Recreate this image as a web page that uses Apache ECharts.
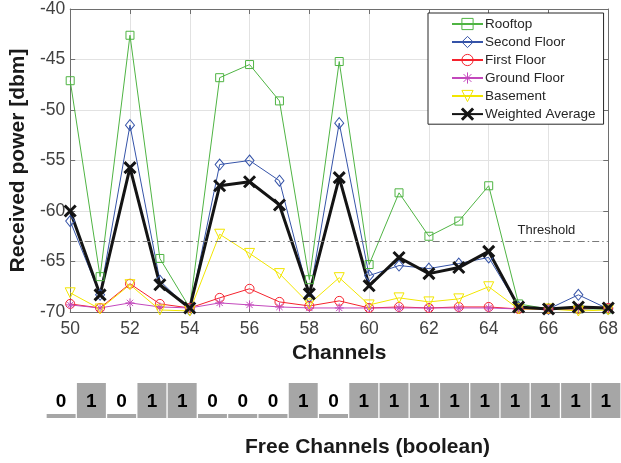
<!DOCTYPE html>
<html>
<head>
<meta charset="utf-8">
<script src="https://cdn.jsdelivr.net/npm/echarts@6/dist/echarts.min.js"></script>
<style>
html,body{margin:0;padding:0;background:#fff;}
#chart{width:621px;height:463px;}
</style>
</head>
<body>
<div id="chart"></div>
<script>
const channels = [50,51,52,53,54,55,56,57,58,59,60,61,62,63,64,65,66,67,68];
const rooftop = [-47.1,-66.5,-42.6,-64.7,-69.6,-46.8,-45.5,-49.1,-66.8,-45.2,-65.3,-58.2,-62.5,-61.0,-57.5,-69.2,-69.7,-69.7,-69.7];
const secondFloor = [-61.0,-68.3,-51.5,-66.9,-69.8,-55.4,-55.0,-57.0,-68.5,-51.3,-66.4,-65.4,-65.7,-65.2,-64.6,-69.5,-69.7,-68.3,-69.7];
const firstFloor = [-69.2,-69.6,-67.2,-69.2,-69.6,-68.6,-67.7,-69.0,-69.4,-68.9,-69.6,-69.5,-69.6,-69.5,-69.5,-69.7,-69.7,-69.7,-69.6];
const groundFloor = [-69.3,-69.6,-69.1,-69.5,-69.6,-69.1,-69.3,-69.5,-69.6,-69.6,-69.6,-69.6,-69.6,-69.6,-69.6,-69.7,-69.7,-69.6,-69.6];
const basement = [-68.1,-69.7,-67.3,-69.8,-69.9,-62.3,-64.2,-66.2,-69.2,-66.6,-69.3,-68.6,-69.0,-68.7,-67.5,-69.7,-69.7,-69.9,-69.8];
const weighted = [-60.0,-68.3,-55.7,-67.3,-69.6,-57.5,-57.1,-59.4,-68.2,-56.7,-67.4,-64.6,-66.2,-65.6,-64.0,-69.5,-69.7,-69.5,-69.6];
const freeChannels = [0,1,0,1,1,0,0,0,1,0,1,1,1,1,1,1,1,1,1];
const threshold = -63;
const seriesNames = ['Rooftop','Second Floor','First Floor','Ground Floor','Basement','Weighted Average'];
const seriesColors = ['#4fb443','#3553a8','#f5222d','#c348bc','#f2e600','#141414'];

const FONT = '"Liberation Sans", Arial, Helvetica, sans-serif';
const CLEAR = 'rgba(0,0,0,0)';
const pairs = arr => arr.map((v, i) => [channels[i], v]);
const SYM = {
  star: 'path://M5,0L5,10M0,5L10,5M1.5,1.5L8.5,8.5M8.5,1.5L1.5,8.5',
  tri: 'path://M0,0L10,0L5,9Z',
  cross: 'path://M0,0L10,10M10,0L0,10'
};

function mkLine(idx, data, symbol, size, lw, bw) {
  const color = seriesColors[idx];
  return {
    name: seriesNames[idx], type: 'line', xAxisIndex: 0, yAxisIndex: 0,
    data: pairs(data), symbol: symbol, symbolSize: size, clip: false,
    showAllSymbol: true, color: color,
    lineStyle: { color: color, width: lw },
    itemStyle: { color: CLEAR, borderColor: color, borderWidth: bw },
    emphasis: { disabled: true }
  };
}

const chart = echarts.init(document.getElementById('chart'), null, { renderer: 'canvas' });
const axisColor = '#6e6e6e';
const legendBw = [1, 1, 1, 1, 1, 3];
const option = {
  animation: false,
  textStyle: { fontFamily: FONT },
  grid: [
    { left: 63, top: 4, width: 548, height: 308 },
    { left: 46, top: 383, width: 578.6, height: 35 }
  ],
  title: {
    text: 'Free Channels (boolean)', left: 245, top: 437,
    padding: 0,
    textStyle: { fontFamily: FONT, fontSize: 21, fontWeight: 'bold', color: '#1a1a1a' }
  },
  legend: {
    data: seriesNames.map((n, i) => ({
      name: n,
      itemStyle: { color: CLEAR, borderColor: seriesColors[i], borderWidth: legendBw[i] }
    })),
    orient: 'vertical', left: 428, top: 13,
    padding: [4, 8, 3, 23], itemGap: 4, itemWidth: 31, itemHeight: 14,
    borderColor: '#262626', borderWidth: 1, backgroundColor: '#fff',
    selectedMode: false,
    textStyle: { fontFamily: FONT, fontSize: 13.5, lineHeight: 14, color: '#262626', padding: [0, 0, 0, -3] }
  },
  xAxis: [
    {
      type: 'value', gridIndex: 0, min: 50, max: 68, interval: 2,
      name: 'Channels', nameLocation: 'middle', nameGap: 31,
      nameTextStyle: { fontFamily: FONT, fontSize: 21, fontWeight: 'bold', color: '#1a1a1a' },
      axisLine: { show: true, lineStyle: { color: axisColor } },
      axisTick: { show: true, inside: true, length: 5, lineStyle: { color: axisColor } },
      axisLabel: { fontFamily: FONT, fontSize: 17.5, color: '#404040', margin: 8 },
      splitLine: { show: true, lineStyle: { color: '#e2e2e2' } }
    },
    {
      type: 'value', gridIndex: 0, position: 'top', min: 50, max: 68, interval: 2,
      axisLine: { show: true, lineStyle: { color: axisColor } },
      axisTick: { show: true, inside: true, length: 5, lineStyle: { color: axisColor } },
      axisLabel: { show: false }, splitLine: { show: false }
    },
    {
      type: 'category', gridIndex: 1, data: channels.map(String), show: false
    }
  ],
  yAxis: [
    {
      type: 'value', gridIndex: 0, min: -70, max: -40, interval: 5,
      name: 'Received power [dbm]', nameLocation: 'middle', nameGap: 36,
      nameTextStyle: { fontFamily: FONT, fontSize: 21, fontWeight: 'bold', color: '#1a1a1a' },
      axisLine: { show: true, lineStyle: { color: axisColor } },
      axisTick: { show: true, inside: true, length: 5, lineStyle: { color: axisColor } },
      axisLabel: { fontFamily: FONT, fontSize: 17.5, color: '#404040', margin: 5 },
      splitLine: { show: true, lineStyle: { color: '#e2e2e2' } }
    },
    {
      type: 'value', gridIndex: 0, position: 'right', min: -70, max: -40, interval: 5,
      axisLine: { show: true, lineStyle: { color: axisColor } },
      axisTick: { show: true, inside: true, length: 5, lineStyle: { color: axisColor } },
      axisLabel: { show: false }, splitLine: { show: false }
    },
    {
      type: 'value', gridIndex: 1, min: 0, max: 1, show: false
    }
  ],
  series: [
    Object.assign(mkLine(0, rooftop, 'rect', 8, 1, 1), {
      markLine: {
        silent: true, symbol: 'none',
        lineStyle: { color: '#7a7a7a', type: [7, 3, 1.5, 3], width: 1 },
        label: {
          show: true, position: 'insideEndTop', formatter: 'Threshold',
          distance: [33, 4], fontFamily: FONT, fontSize: 13, color: '#262626'
        },
        data: [{ yAxis: threshold }]
      }
    }),
    mkLine(1, secondFloor, 'diamond', [9, 11], 1, 1),
    mkLine(2, firstFloor, 'circle', 9, 1, 1),
    mkLine(3, groundFloor, SYM.star, 9, 1, 1),
    mkLine(4, basement, SYM.tri, 10, 1, 1),
    mkLine(5, weighted, SYM.cross, 11, 3, 3),
    {
      type: 'custom', xAxisIndex: 2, yAxisIndex: 2, silent: true,
      data: freeChannels.map((v, i) => [i, v]),
      renderItem: function (params, api) {
        const i = api.value(0);
        const v = api.value(1);
        const p0 = api.coord([i, 0]);
        const p1 = api.coord([i, 1]);
        const band = api.size([1, 0])[0];
        const w = band - 1.3;
        const h = v ? (p0[1] - p1[1]) : 4;
        return {
          type: 'group',
          children: [
            { type: 'rect', shape: { x: p0[0] - w / 2, y: p0[1] - h, width: w, height: h },
              style: { fill: '#a6a6a6' } },
            { type: 'text', style: { text: String(v), x: p0[0], y: (p0[1] + p1[1]) / 2 + 1,
              align: 'center', verticalAlign: 'middle',
              font: 'bold 19px ' + FONT, fill: '#000' } }
          ]
        };
      }
    }
  ]
};
chart.setOption(option);
</script>
</body>
</html>
